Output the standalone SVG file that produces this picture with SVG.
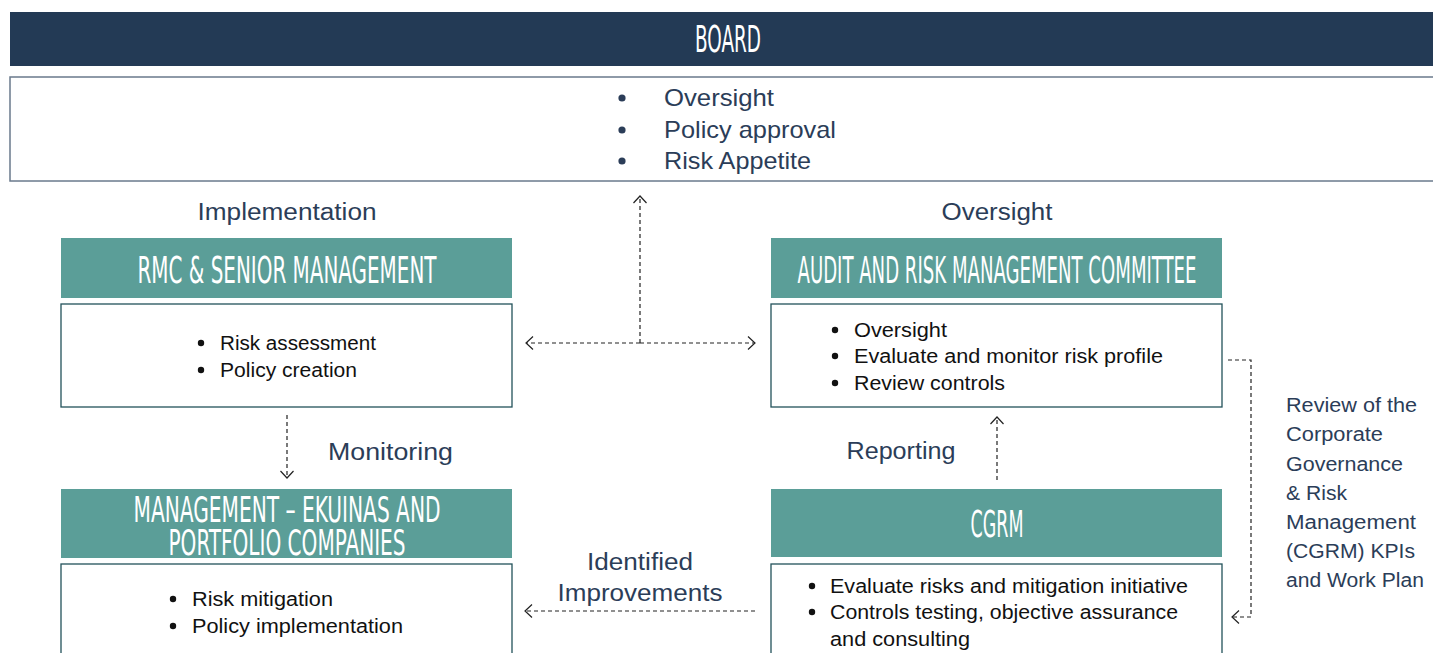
<svg xmlns="http://www.w3.org/2000/svg" width="1433" height="653" viewBox="0 0 1433 653">
<style>
.hdr{font-family:"DejaVu Sans Condensed","DejaVu Sans",sans-serif;fill:#ffffff;font-size:37px;}
.hdr2{font-family:"DejaVu Sans Condensed","DejaVu Sans",sans-serif;fill:#ffffff;font-size:35px;}
.lbl{font-family:"Liberation Sans",Arial,sans-serif;fill:#2b3d58;font-size:23px;}
.side{font-family:"Liberation Sans",Arial,sans-serif;fill:#2b3d58;font-size:20px;}
.body{font-family:"Liberation Sans",Arial,sans-serif;fill:#111111;font-size:20px;}
.btop{font-family:"Liberation Sans",Arial,sans-serif;fill:#2b3d58;font-size:24px;}
.teal{fill:#5b9e98;}
.box{fill:#ffffff;stroke:#23525a;stroke-width:1.3;}
.conn{fill:none;stroke:#222222;stroke-width:1.2;stroke-dasharray:4 3;}
</style>
<defs>
<marker id="arr" viewBox="0 0 12 14" refX="11" refY="7" markerWidth="12" markerHeight="14" markerUnits="userSpaceOnUse" orient="auto">
<path d="M4,0.5 L11,7 L4,13.5" fill="none" stroke="#222" stroke-width="1.2"/>
</marker>
</defs>
<rect width="1433" height="653" fill="#ffffff"/>

<g id="board">
<rect x="10" y="12" width="1423" height="54" fill="#233a55"/>
<text class="hdr" x="728" y="52" text-anchor="middle" textLength="66" lengthAdjust="spacingAndGlyphs">BOARD</text>
<rect x="10" y="77" width="1430" height="104" fill="#ffffff" stroke="#6a7a8c" stroke-width="1.5"/>
<circle cx="622" cy="98" r="3.6" fill="#2b3d58"/>
<circle cx="622" cy="130" r="3.6" fill="#2b3d58"/>
<circle cx="622" cy="161" r="3.6" fill="#2b3d58"/>
<text class="btop" x="664" y="106" textLength="110" lengthAdjust="spacingAndGlyphs">Oversight</text>
<text class="btop" x="664" y="138" textLength="172" lengthAdjust="spacingAndGlyphs">Policy approval</text>
<text class="btop" x="664" y="169" textLength="147" lengthAdjust="spacingAndGlyphs">Risk Appetite</text>
</g>

<g id="rmc">
<rect class="teal" x="61" y="238" width="451" height="60"/>
<text class="hdr" x="287" y="283" text-anchor="middle" textLength="299" lengthAdjust="spacingAndGlyphs">RMC &amp; SENIOR MANAGEMENT</text>
<rect class="box" x="61" y="304" width="451" height="103"/>
<circle cx="201" cy="343" r="3.2" fill="#111"/>
<circle cx="201" cy="370" r="3.2" fill="#111"/>
<text class="body" x="220" y="350" textLength="156" lengthAdjust="spacingAndGlyphs">Risk assessment</text>
<text class="body" x="220" y="377" textLength="137" lengthAdjust="spacingAndGlyphs">Policy creation</text>
</g>

<g id="armc">
<rect class="teal" x="771" y="238" width="451" height="60"/>
<text class="hdr" x="997" y="283" text-anchor="middle" textLength="399" lengthAdjust="spacingAndGlyphs">AUDIT AND RISK MANAGEMENT COMMITTEE</text>
<rect class="box" x="771" y="304" width="451" height="103"/>
<circle cx="835" cy="330" r="3.2" fill="#111"/>
<circle cx="835" cy="356" r="3.2" fill="#111"/>
<circle cx="835" cy="383" r="3.2" fill="#111"/>
<text class="body" x="854" y="337" textLength="93" lengthAdjust="spacingAndGlyphs">Oversight</text>
<text class="body" x="854" y="363" textLength="309" lengthAdjust="spacingAndGlyphs">Evaluate and monitor risk profile</text>
<text class="body" x="854" y="390" textLength="151" lengthAdjust="spacingAndGlyphs">Review controls</text>
</g>

<g id="mgmt">
<rect class="teal" x="61" y="489" width="451" height="69"/>
<text class="hdr2" x="287" y="522" text-anchor="middle" textLength="307" lengthAdjust="spacingAndGlyphs">MANAGEMENT – EKUINAS AND</text>
<text class="hdr2" x="287" y="555" text-anchor="middle" textLength="237" lengthAdjust="spacingAndGlyphs">PORTFOLIO COMPANIES</text>
<rect class="box" x="61" y="564" width="451" height="100"/>
<circle cx="173" cy="599" r="3.2" fill="#111"/>
<circle cx="173" cy="626" r="3.2" fill="#111"/>
<text class="body" x="192" y="606" textLength="141" lengthAdjust="spacingAndGlyphs">Risk mitigation</text>
<text class="body" x="192" y="633" textLength="211" lengthAdjust="spacingAndGlyphs">Policy implementation</text>
</g>

<g id="cgrm">
<rect class="teal" x="771" y="489" width="451" height="68"/>
<text class="hdr" x="997" y="537" text-anchor="middle" textLength="53" lengthAdjust="spacingAndGlyphs">CGRM</text>
<rect class="box" x="771" y="564" width="451" height="100"/>
<circle cx="812" cy="586" r="3.2" fill="#111"/>
<circle cx="812" cy="612" r="3.2" fill="#111"/>
<text class="body" x="830" y="593" textLength="358" lengthAdjust="spacingAndGlyphs">Evaluate risks and mitigation initiative</text>
<text class="body" x="830" y="619" textLength="348" lengthAdjust="spacingAndGlyphs">Controls testing, objective assurance</text>
<text class="body" x="830" y="646" textLength="140" lengthAdjust="spacingAndGlyphs">and consulting</text>
</g>

<g id="labels">
<text class="lbl" x="287" y="220" text-anchor="middle" textLength="179" lengthAdjust="spacingAndGlyphs">Implementation</text>
<text class="lbl" x="997" y="220" text-anchor="middle" textLength="111" lengthAdjust="spacingAndGlyphs">Oversight</text>
<text class="lbl" x="328" y="460" textLength="125" lengthAdjust="spacingAndGlyphs">Monitoring</text>
<text class="lbl" x="901" y="459" text-anchor="middle" textLength="109" lengthAdjust="spacingAndGlyphs">Reporting</text>
<text class="lbl" x="640" y="570" text-anchor="middle" textLength="106" lengthAdjust="spacingAndGlyphs">Identified</text>
<text class="lbl" x="640" y="601" text-anchor="middle" textLength="165" lengthAdjust="spacingAndGlyphs">Improvements</text>
<text class="side" x="1286" y="412" textLength="131" lengthAdjust="spacingAndGlyphs">Review of the</text>
<text class="side" x="1286" y="441" textLength="97" lengthAdjust="spacingAndGlyphs">Corporate</text>
<text class="side" x="1286" y="471" textLength="117" lengthAdjust="spacingAndGlyphs">Governance</text>
<text class="side" x="1286" y="500" textLength="61" lengthAdjust="spacingAndGlyphs">&amp; Risk</text>
<text class="side" x="1286" y="529" textLength="130" lengthAdjust="spacingAndGlyphs">Management</text>
<text class="side" x="1286" y="558" textLength="129" lengthAdjust="spacingAndGlyphs">(CGRM) KPIs</text>
<text class="side" x="1286" y="587" textLength="138" lengthAdjust="spacingAndGlyphs">and Work Plan</text>
</g>

<g id="connectors">
<path class="conn" d="M640,343 L526,343" marker-end="url(#arr)"/>
<path class="conn" d="M640,343 L755,343" marker-end="url(#arr)"/>
<path class="conn" d="M640,343 L640,196" marker-end="url(#arr)"/>
<path class="conn" d="M287,415 L287,478" marker-end="url(#arr)"/>
<path class="conn" d="M997,480 L997,417" marker-end="url(#arr)"/>
<path class="conn" d="M755,611 L525,611" marker-end="url(#arr)"/>
<path class="conn" d="M1228,360 L1251,360 L1251,617 L1232,617" marker-end="url(#arr)"/>
</g>
</svg>
